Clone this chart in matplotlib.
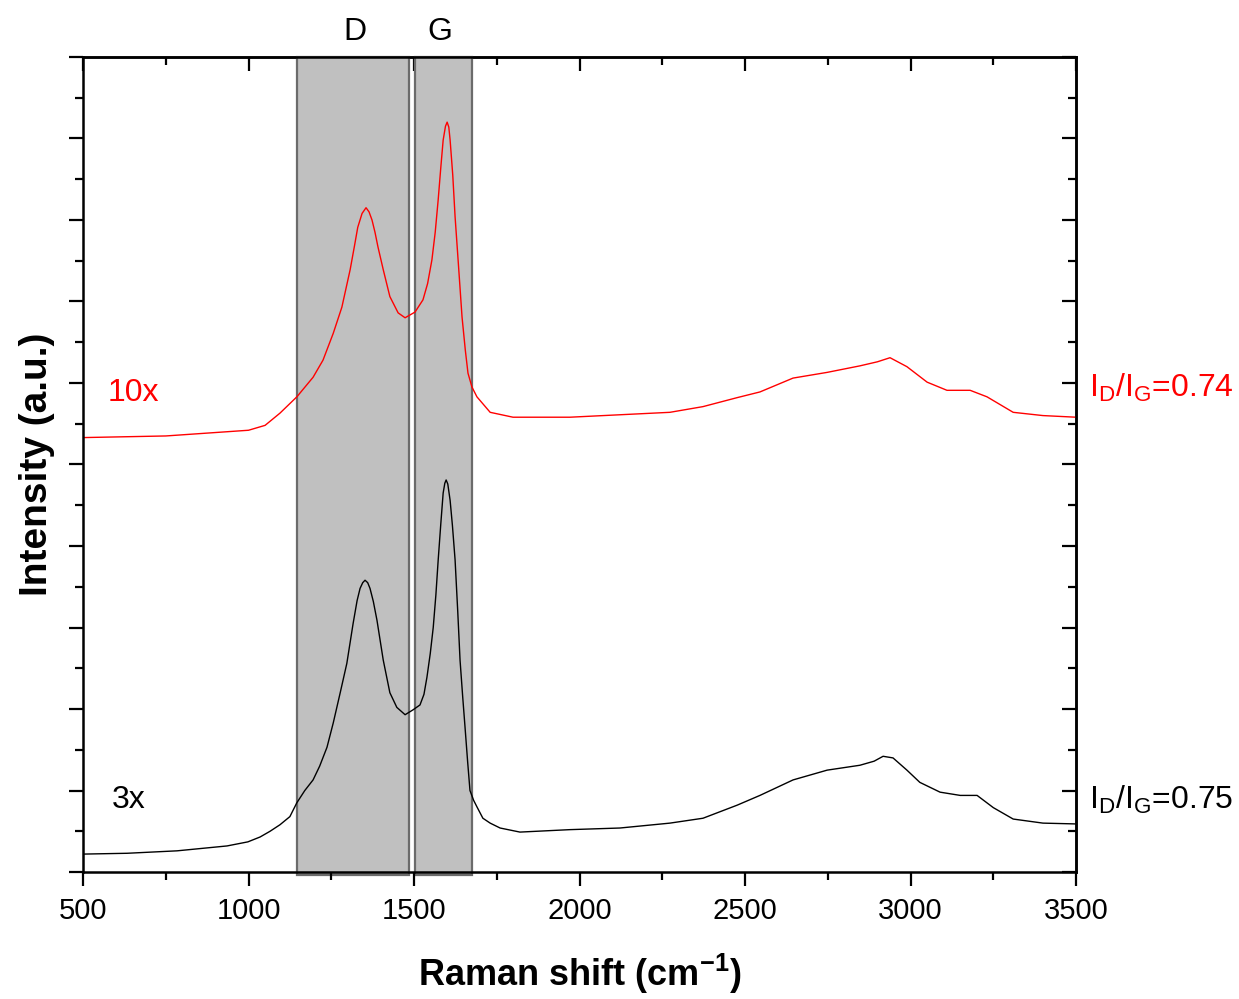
import matplotlib
matplotlib.use("Agg")
import matplotlib.pyplot as plt
from matplotlib.patches import Rectangle
from matplotlib.ticker import MultipleLocator

plt.rcParams['font.family'] = ['Liberation Sans', 'DejaVu Sans']
plt.rcParams['mathtext.fontset'] = 'custom'
plt.rcParams['mathtext.rm'] = 'Liberation Sans'
plt.rcParams['mathtext.bf'] = 'Liberation Sans:bold'

# Raman spectra (shift in cm-1, intensity in arbitrary units)
black_shift = [500, 633, 784, 935, 998, 1035, 1065, 1095, 1125, 1146, 1170, 1195,
               1215, 1237, 1256, 1277, 1297, 1316, 1328, 1337, 1345, 1352, 1360,
               1367, 1377, 1388, 1407, 1427, 1448, 1473, 1497, 1518, 1530, 1539,
               1549, 1558, 1566, 1573, 1581, 1588, 1593, 1597, 1602, 1609, 1616,
               1624, 1632, 1639, 1647, 1654, 1662, 1669, 1680, 1690, 1708, 1730,
               1760, 1820, 1971, 2122, 2273, 2373, 2476, 2545, 2645, 2748, 2847,
               2890, 2917, 2947, 2989, 3028, 3089, 3150, 3201, 3250, 3310, 3400,
               3500]
black_int = [0.22, 0.23, 0.26, 0.32, 0.37, 0.43, 0.50, 0.58, 0.68, 0.85, 1.00, 1.13,
             1.30, 1.53, 1.83, 2.20, 2.56, 3.05, 3.33, 3.48, 3.55, 3.58, 3.55,
             3.48, 3.32, 3.09, 2.60, 2.20, 2.02, 1.93, 1.99, 2.05, 2.18, 2.39,
             2.68, 3.00, 3.40, 3.83, 4.28, 4.65, 4.77, 4.81, 4.76, 4.56, 4.25,
             3.83, 3.20, 2.60, 2.15, 1.78, 1.35, 1.00, 0.88, 0.80, 0.66, 0.60,
             0.54, 0.49, 0.52, 0.54, 0.60, 0.66, 0.82, 0.94, 1.13, 1.25, 1.31,
             1.36, 1.42, 1.40, 1.25, 1.10, 0.98, 0.94, 0.94, 0.79, 0.65, 0.60,
             0.59]

red_shift = [500, 750, 1000, 1050, 1095, 1146, 1195, 1225, 1256, 1282, 1307, 1320,
             1330, 1343, 1355, 1364, 1373, 1382, 1391, 1407, 1427, 1452, 1473,
             1503, 1527, 1541, 1554, 1564, 1573, 1581, 1588, 1595, 1600, 1605,
             1609, 1617, 1624, 1635, 1645, 1655, 1663, 1675, 1690, 1730, 1799,
             1971, 2122, 2273, 2373, 2476, 2545, 2645, 2748, 2847, 2900, 2938,
             2989, 3050, 3110, 3180, 3231, 3310, 3400, 3500]
red_int = [5.33, 5.35, 5.42, 5.48, 5.63, 5.83, 6.07, 6.28, 6.61, 6.93, 7.39, 7.68,
           7.91, 8.08, 8.15, 8.10, 8.00, 7.85, 7.67, 7.39, 7.06, 6.86, 6.80,
           6.87, 7.02, 7.22, 7.51, 7.85, 8.25, 8.65, 8.98, 9.15, 9.20, 9.14,
           8.98, 8.55, 8.04, 7.40, 6.81, 6.40, 6.12, 5.95, 5.83, 5.64, 5.58,
           5.58, 5.61, 5.64, 5.71, 5.82, 5.89, 6.06, 6.13, 6.21, 6.26, 6.31,
           6.20, 6.01, 5.91, 5.91, 5.83, 5.64, 5.60, 5.58]

# D and G band windows
band_names = ['D', 'G']
band_lo = [1147, 1503]
band_hi = [1485, 1675]
band_label_x = [1322, 1578]

fig = plt.figure(figsize=(12.39, 9.99), dpi=100)
ax = fig.add_axes([0.067, 0.1271, 0.8015, 0.8159])

ax.set_xlim(500, 3500)
ax.set_ylim(0, 10)

for name, lo, hi, lx in zip(band_names, band_lo, band_hi, band_label_x):
    rect = Rectangle((lo, -0.04), hi - lo, 10.04, facecolor='#c0c0c0',
                     edgecolor='#6b6b6b', linewidth=1.6, zorder=1, clip_on=False)
    ax.add_patch(rect)
    ax.text(lx, 10.3, name, ha='center', va='center', fontsize=23)

ax.plot(red_shift, red_int, color='#ff0000', lw=1.0, zorder=3)
ax.plot(black_shift, black_int, color='black', lw=1.0, zorder=3)

ax.text(573, 5.88, '10x', color='#ff0000', fontsize=23, ha='left', va='center')
ax.text(588, 0.88, '3x', color='black', fontsize=23, ha='left', va='center')

ax.text(1.013, 5.94, r'I$_\mathregular{D}$/I$_\mathregular{G}$=0.74', color='#ff0000',
        fontsize=23, ha='left', va='center', transform=ax.get_yaxis_transform(),
        clip_on=False)
ax.text(1.013, 0.88, r'I$_\mathregular{D}$/I$_\mathregular{G}$=0.75', color='black',
        fontsize=23, ha='left', va='center', transform=ax.get_yaxis_transform(),
        clip_on=False)

# spines and ticks
for s in ax.spines.values():
    s.set_linewidth(1.8)
    s.set_zorder(4)

ax.xaxis.set_major_locator(MultipleLocator(500))
ax.xaxis.set_minor_locator(MultipleLocator(250))
ax.yaxis.set_major_locator(MultipleLocator(1))
ax.yaxis.set_minor_locator(MultipleLocator(0.5))
ax.tick_params(which='both', direction='out', width=1.6, top=False, right=False)
ax.tick_params(which='major', length=10, labelsize=21, pad=8)
ax.tick_params(which='minor', length=5.5)
ax.tick_params(axis='y', labelleft=False)

top = ax.secondary_xaxis('top')
top.xaxis.set_major_locator(MultipleLocator(500))
top.xaxis.set_minor_locator(MultipleLocator(250))
top.tick_params(which='both', direction='in', width=1.6, labeltop=False)
top.tick_params(which='major', length=10)
top.tick_params(which='minor', length=5.5)
top.spines['top'].set_linewidth(1.8)

right = ax.secondary_yaxis('right')
right.yaxis.set_major_locator(MultipleLocator(1))
right.yaxis.set_minor_locator(MultipleLocator(0.5))
right.tick_params(which='both', direction='in', width=1.6, labelright=False)
right.tick_params(which='major', length=10)
right.tick_params(which='minor', length=5.5)
right.spines['right'].set_linewidth(1.8)

ax.set_xlabel(r'Raman shift (cm$^{\mathbf{-1}}$)', fontsize=26, fontweight='bold', labelpad=19)
ax.set_ylabel('Intensity (a.u.)', fontsize=28, fontweight='bold', labelpad=10)

fig.savefig('out.png', dpi=100, facecolor='white')
